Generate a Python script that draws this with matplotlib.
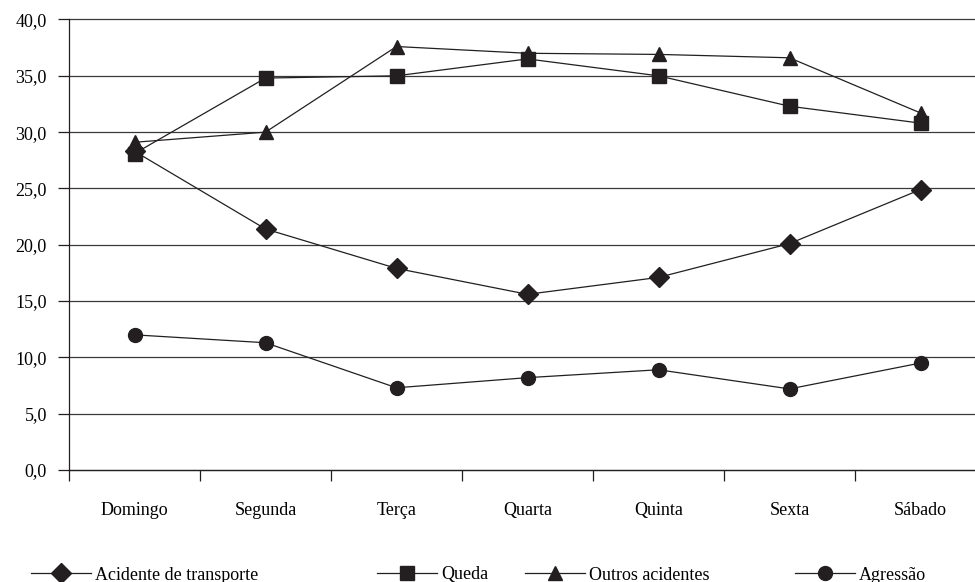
import numpy as np
import matplotlib.pyplot as plt
from matplotlib.ticker import FuncFormatter

# dias da semana e percentuais por tipo de causa
dias = ['Domingo', 'Segunda', 'Terça', 'Quarta', 'Quinta', 'Sexta', 'Sábado']
transporte = [28.3, 21.4, 17.9, 15.6, 17.1, 20.1, 24.9]
queda = [28.1, 34.8, 35.0, 36.5, 35.0, 32.3, 30.8]
outros = [29.1, 30.0, 37.6, 37.0, 36.9, 36.6, 31.7]
agressao = [12.0, 11.3, 7.3, 8.2, 8.9, 7.2, 9.5]

plt.rcParams['font.family'] = ['Liberation Serif', 'DejaVu Serif']
plt.rcParams['font.size'] = 13

cor = '#231f20'
fig = plt.figure(figsize=(9.75, 5.82), dpi=100)
ax = fig.add_axes([69 / 975, 1 - 470 / 582, (986 - 69) / 975, (470 - 19.5) / 582])

x = np.arange(len(dias))
l1, = ax.plot(x, transporte, color=cor, lw=0.9, marker='D', ms=10.5, label='Acidente de transporte')
l2, = ax.plot(x, queda, color=cor, lw=0.9, marker='s', ms=10.5, label='Queda')
l3, = ax.plot(x, outros, color=cor, lw=0.9, marker='^', ms=10.5, label='Outros acidentes')
l4, = ax.plot(x, agressao, color=cor, lw=0.9, marker='o', ms=10, label='Agressão')

ax.set_xlim(-0.5, len(dias) - 0.5)
ax.set_ylim(0, 40)
ax.set_yticks(np.arange(0, 41, 5))
ax.yaxis.set_major_formatter(FuncFormatter(lambda v, p: f'{v:.1f}'.replace('.', ',')))
ax.yaxis.grid(True, color='#3a3a3a', lw=0.9)
ax.set_axisbelow(True)
for gl in ax.get_ygridlines():
    gl.set_clip_on(False)

ax.set_xticks(x)
ax.set_xticklabels(dias)
ax.set_xticks(np.arange(-0.5, len(dias) - 0.5, 1), minor=True)
ax.tick_params(axis='x', which='major', length=0, pad=23)
ax.tick_params(axis='x', which='minor', length=8, width=0.9, color=cor)
ax.tick_params(axis='y', length=8, width=0.9, pad=8, color=cor)

for s in ['top', 'right']:
    ax.spines[s].set_visible(False)
for s in ['left', 'bottom']:
    ax.spines[s].set_color(cor)
    ax.spines[s].set_linewidth(0.9)

# legenda em baixo, uma entrada de cada vez
inicio = [31, 377, 525, 795]
for h, x0 in zip([l1, l2, l3, l4], inicio):
    fig.legend(handles=[h], loc='center left', bbox_to_anchor=(x0 / 975, 1 - 575 / 582),
               frameon=False, handlelength=3.3, handletextpad=0.25, borderpad=0,
               borderaxespad=0, fontsize=13)

fig.savefig('out.png', dpi=100)
